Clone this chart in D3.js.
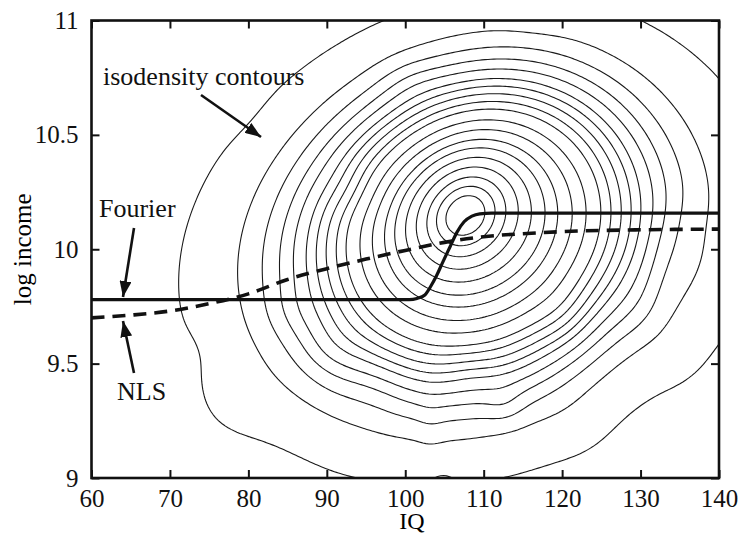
<!DOCTYPE html>
<html><head><meta charset="utf-8">
<script src="https://cdn.jsdelivr.net/npm/d3@7"></script>
<style>body{margin:0;background:#fff}svg{display:block}
text{font-family:"Liberation Serif","Times New Roman",Times,serif;}</style>
</head><body>
<svg id="c" width="742" height="535"></svg>
<script>
// ---------- data ----------
const xTicks = [60,70,80,90,100,110,120,130,140];
const yTicks = [9,9.5,10,10.5,11];
const yTickLabels = ["9","9.5","10","10.5","11"];

// Fourier fit (solid)
const fourierIQ  = [60,100.5,101.5,102.5,103.2,104,104.8,105.7,106.6,107.5,108.5,109.5,111,140];
const fourierLog = [9.78,9.78,9.785,9.80,9.835,9.885,9.945,10.01,10.075,10.12,10.145,10.155,10.158,10.158];
// NLS fit (dashed)
const nlsIQ  = [60,65,70,75,80,85,90,95,100,105,110,115,120,130,140];
const nlsLog = [9.70,9.712,9.73,9.762,9.805,9.868,9.915,9.957,9.995,10.03,10.055,10.068,10.077,10.085,10.088];

// density components (IQ mean, log-income mean, sd IQ, sd log, correlation, weight)
const compIQ    = [107.0, 108.5, 109.0, 107.0, 128.0,  77.0, 103.0, 112.5,  78.0,  73.0,  90.0,  96.0, 108.0, 133.0, 135.0, 120.0, 117.0, 100.0,  85.0, 104.5, 122.0,  93.0,  82.0, 130.0, 136.5];
const compLog   = [10.17, 10.14, 10.00, 10.00,  9.45,  9.28,  9.20,  9.30, 10.62,  9.55,  9.55,  9.38,  9.45,  9.95,  9.50,  9.70, 11.00, 10.75,  9.72,  9.00,  9.20, 10.25,  8.95,  9.70, 10.10];
const compSdIQ  = [5, 13, 26, 36, 7, 4, 1.3, 1.8, 3, 2.5, 3, 3, 2.5, 2, 3, 2.5, 3, 3, 2.5, 1.5, 3, 2.5, 4, 2.5, 2];
const compSdLog = [0.18, 0.45, 0.7, 1.0, 0.25, 0.12, 0.1, 0.06, 0.1, 0.08, 0.1, 0.1, 0.08, 0.15, 0.12, 0.1, 0.05, 0.08, 0.08, 0.04, 0.1, 0.08, 0.12, 0.1, 0.1];
const compRho   = [0.2, 0.15, 0.15, 0.2, 0, 0, 0, 0, 0, 0, 0, 0, 0, 0, 0, 0, 0, 0, 0, 0, 0, 0, 0, 0, 0];
const compW     = [0.25, 0.6, 0.6, 0.15, -0.04, 0.035, 0.015, 0.03, -0.015, -0.015, 0.025, -0.02, -0.02, -0.025, 0.02, 0.02, -0.015, 0.02, 0.015, -0.03, 0.02, -0.02, -0.015, 0.015, -0.015];

// contour crossings read along log income = 10.17, left of the peak
const levelRayLog = 10.17;
const levelIQ = [72.7, 79.9, 82.9, 85.0, 86.7, 88.3, 89.6, 90.9, 92.2, 93.4, 95.0, 96.4, 97.8, 99.0, 100.3, 101.6, 102.9, 104.1, 105.3];

// ---------- layout ----------
const L = 91.5, R = 719, T = 20.5, B = 478;
const x = d3.scaleLinear([60,140],[L,R]);
const y = d3.scaleLinear([9,11],[B,T]);
const svg = d3.select("#c");

svg.append("defs").append("clipPath").attr("id","clip")
  .append("rect").attr("x",L).attr("y",T).attr("width",R-L).attr("height",B-T);

// ---------- density grid ----------
function dens(u,v){
  let s = 0;
  for (let k=0;k<compW.length;k++){
    const a = (u-compIQ[k])/compSdIQ[k];
    const b = (v-compLog[k])/compSdLog[k];
    const r = compRho[k];
    const q = (a*a + b*b - 2*r*a*b)/(1-r*r);
    s += compW[k]*Math.exp(-0.5*q);
  }
  return s;
}
const gx0 = 55, gx1 = 145, gy0 = 8.8, gy1 = 11.2;
const nx = 240, ny = 200;
const dxg = (gx1-gx0)/(nx-1), dyg = (gy1-gy0)/(ny-1);
const values = new Float64Array(nx*ny);
for (let j=0;j<ny;j++) for (let i=0;i<nx;i++) values[j*nx+i] = dens(gx0+i*dxg, gy0+j*dyg);
const levels = levelIQ.map(u => dens(u, levelRayLog));
const contours = d3.contours().size([nx,ny]).thresholds(levels)(values);
const proj = d3.geoTransform({point: function(px,py){
  this.stream.point(x(gx0 + px*dxg), y(gy0 + py*dyg));
}});
const path = d3.geoPath(proj);
svg.append("g").attr("clip-path","url(#clip)")
  .selectAll("path").data(contours).join("path")
  .attr("d", path).attr("fill","none").attr("stroke","#1a1a1a").attr("stroke-width",1.1);

// ---------- fit lines ----------
const line = d3.line().x(d=>x(d[0])).y(d=>y(d[1])).curve(d3.curveMonotoneX);
const gl = svg.append("g").attr("clip-path","url(#clip)");
gl.append("path").attr("d", line(nlsIQ.map((v,i)=>[v,nlsLog[i]])))
  .attr("fill","none").attr("stroke","#111").attr("stroke-width",3.6).attr("stroke-dasharray","13,8");
gl.append("path").attr("d", line(fourierIQ.map((v,i)=>[v,fourierLog[i]])))
  .attr("fill","none").attr("stroke","#111").attr("stroke-width",3.2);

// ---------- axes ----------
const styleAxis = g => { g.select(".domain").remove(); g.attr("font-family",null).attr("font-size",null);
  g.selectAll("line").attr("stroke","#111").attr("stroke-width",2);
  g.selectAll("text").style("font-size","25px").attr("fill","#111"); };
svg.append("g").attr("transform",`translate(0,${B})`)
  .call(d3.axisBottom(x).tickValues(xTicks).tickSizeInner(-8).tickSizeOuter(0).tickPadding(11).tickFormat(d3.format("d")))
  .call(styleAxis);
svg.append("g").attr("transform",`translate(0,${T})`)
  .call(d3.axisTop(x).tickValues(xTicks).tickSizeInner(-8).tickSizeOuter(0).tickFormat(""))
  .call(styleAxis);
svg.append("g").attr("transform",`translate(${L},0)`)
  .call(d3.axisLeft(y).tickValues(yTicks).tickSizeInner(-8).tickSizeOuter(0).tickPadding(13).tickFormat((d,i)=>yTickLabels[i]))
  .call(styleAxis);
svg.append("g").attr("transform",`translate(${R},0)`)
  .call(d3.axisRight(y).tickValues(yTicks).tickSizeInner(-8).tickSizeOuter(0).tickFormat(""))
  .call(styleAxis);
svg.append("rect").attr("x",L).attr("y",T).attr("width",R-L).attr("height",B-T)
  .attr("fill","none").attr("stroke","#111").attr("stroke-width",2.6);

svg.append("text").attr("x",412).attr("y",529).attr("text-anchor","middle")
  .style("font-size","24px").text("IQ");
svg.append("text").attr("transform",`translate(31,${(T+B)/2}) rotate(-90)`).attr("text-anchor","middle")
  .style("font-size","25px").text("log income");

// ---------- annotations ----------
const defs = svg.select("defs");
defs.append("marker").attr("id","ah").attr("viewBox","0 0 16 12").attr("refX",16).attr("refY",6)
  .attr("markerWidth",16).attr("markerHeight",12).attr("markerUnits","userSpaceOnUse").attr("orient","auto")
  .append("path").attr("d","M0,0 L16,6 L0,12 Z").attr("fill","#111");
const annos = [
  {text:"isodensity contours", tx:103, ty:85, x1:201, y1:95, x2:261, y2:137},
  {text:"Fourier", tx:99, ty:217, x1:134, y1:228, x2:123, y2:297},
  {text:"NLS", tx:117, ty:400, x1:134, y1:373, x2:123, y2:321}
];
annos.forEach(a=>{
  svg.append("text").attr("x",a.tx).attr("y",a.ty).style("font-size","26px").attr("fill","#111").text(a.text);
  svg.append("line").attr("x1",a.x1).attr("y1",a.y1).attr("x2",a.x2).attr("y2",a.y2)
    .attr("stroke","#111").attr("stroke-width",2.6).attr("marker-end","url(#ah)");
});
</script>
</body></html>
